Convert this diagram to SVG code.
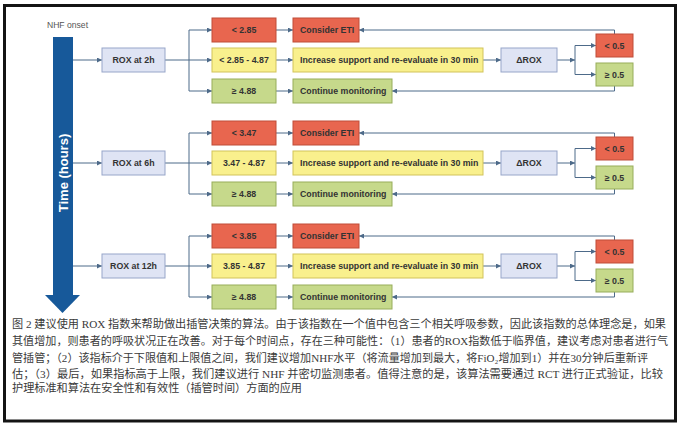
<svg xmlns="http://www.w3.org/2000/svg" width="680" height="426" viewBox="0 0 680 426">
<defs>
<marker id="ah" viewBox="0 0 6 6" refX="6" refY="3" markerWidth="5" markerHeight="5" markerUnits="userSpaceOnUse" orient="auto">
<path d="M0,0 L6,3 L0,6 z" fill="#4d6a89"/>
</marker>
</defs>
<style>
.box{stroke-width:1}
.rox{fill:#dfe4f4;stroke:#97a6c9}
.red{fill:#e8664f;stroke:#bf4c39}
.yel{fill:#f9f08d;stroke:#d1c35b}
.grn{fill:#c6d98b;stroke:#97ad5b}
.t{font-family:"Liberation Sans",Arial,sans-serif;font-weight:bold;font-size:8.8px;fill:#333}
.c{text-anchor:middle}
.ln{fill:none;stroke:#4d6a89;stroke-width:1}
.ar{marker-end:url(#ah)}
.cap{font-family:"Liberation Serif","Noto Sans CJK SC",serif;font-size:11px;fill:#3a3a3a}
</style>
<rect x="0" y="0" width="680" height="426" fill="#ffffff"/>
<rect x="4.5" y="5.5" width="671" height="415.5" fill="#ffffff" stroke="#141414" stroke-width="3"/>

<g id="timeline">
<text x="67.5" y="28" text-anchor="middle" font-family="'Liberation Sans',Arial,sans-serif" font-size="8.6" fill="#555">NHF onset</text>
<rect x="53" y="37" width="20" height="259" fill="#17599a"/>
<polygon points="45,295 80,295 62.5,313" fill="#17599a"/>
<text transform="translate(67.5,173) rotate(-90)" text-anchor="middle" font-family="'Liberation Sans',Arial,sans-serif" font-weight="bold" font-size="13" fill="#ffffff">Time (hours)</text>
</g>

<g id="connectors">
<g id="conn-2h">
<path class="ln ar" d="M73,60 H102"/>
<path class="ln" d="M165,60 H189 M189,30 V91"/>
<path class="ln ar" d="M189,30 H212"/><path class="ln ar" d="M189,60 H212"/><path class="ln ar" d="M189,91 H212"/>
<path class="ln ar" d="M276,30 H293"/><path class="ln ar" d="M276,60 H293"/><path class="ln ar" d="M276,91 H293"/>
<path class="ln ar" d="M483,60 H501"/>
<path class="ln ar" d="M557,60 H575"/>
<path class="ln" d="M575,45.5 V74.5"/>
<path class="ln ar" d="M575,45.5 H596"/><path class="ln ar" d="M575,74.5 H596"/>
<path class="ln ar" d="M614.5,34 V30 H359"/>
<path class="ln ar" d="M614.5,86 V91 H392"/>
</g>
<g id="conn-6h" transform="translate(0,103)">
<path class="ln ar" d="M73,60 H102"/>
<path class="ln" d="M165,60 H189 M189,30 V91"/>
<path class="ln ar" d="M189,30 H212"/><path class="ln ar" d="M189,60 H212"/><path class="ln ar" d="M189,91 H212"/>
<path class="ln ar" d="M276,30 H293"/><path class="ln ar" d="M276,60 H293"/><path class="ln ar" d="M276,91 H293"/>
<path class="ln ar" d="M483,60 H501"/>
<path class="ln ar" d="M557,60 H575"/>
<path class="ln" d="M575,45.5 V74.5"/>
<path class="ln ar" d="M575,45.5 H596"/><path class="ln ar" d="M575,74.5 H596"/>
<path class="ln ar" d="M614.5,34 V30 H359"/>
<path class="ln ar" d="M614.5,86 V91 H392"/>
</g>
<g id="conn-12h" transform="translate(0,206)">
<path class="ln ar" d="M73,60 H102"/>
<path class="ln" d="M165,60 H189 M189,30 V91"/>
<path class="ln ar" d="M189,30 H212"/><path class="ln ar" d="M189,60 H212"/><path class="ln ar" d="M189,91 H212"/>
<path class="ln ar" d="M276,30 H293"/><path class="ln ar" d="M276,60 H293"/><path class="ln ar" d="M276,91 H293"/>
<path class="ln ar" d="M483,60 H501"/>
<path class="ln ar" d="M557,60 H575"/>
<path class="ln" d="M575,45.5 V74.5"/>
<path class="ln ar" d="M575,45.5 H596"/><path class="ln ar" d="M575,74.5 H596"/>
<path class="ln ar" d="M614.5,34 V30 H359"/>
<path class="ln ar" d="M614.5,86 V91 H392"/>
</g>
</g>

<g id="section-2h">
<g id="rox-2h"><rect class="box rox" x="102" y="48" width="63" height="24"/><text class="t c" x="133.5" y="63.2">ROX at 2h</text></g>
<g id="low-2h"><rect class="box red" x="212" y="18" width="64" height="24"/><text class="t c" x="244" y="33.2">&lt; 2.85</text></g>
<g id="mid-2h"><rect class="box yel" x="212" y="48" width="64" height="24"/><text class="t c" x="244" y="63.2">&lt; 2.85 - 4.87</text></g>
<g id="high-2h"><rect class="box grn" x="212" y="79" width="64" height="24"/><text class="t c" x="244" y="94.2">≥ 4.88</text></g>
<g id="eti-2h"><rect class="box red" x="293" y="18" width="66" height="24"/><text class="t" x="300" y="33.2">Consider ETI</text></g>
<g id="inc-2h"><rect class="box yel" x="293" y="48" width="190" height="24"/><text class="t" x="300" y="63.2">Increase support and re-evaluate in 30 min</text></g>
<g id="mon-2h"><rect class="box grn" x="293" y="79" width="99" height="24"/><text class="t" x="300" y="94.2">Continue monitoring</text></g>
<g id="drox-2h"><rect class="box rox" x="501" y="48" width="56" height="24"/><text class="t c" x="529" y="63.2">ΔROX</text></g>
<g id="dlow-2h"><rect class="box red" x="596" y="34" width="37" height="23"/><text class="t c" x="614.5" y="48.7">&lt; 0.5</text></g>
<g id="dhigh-2h"><rect class="box grn" x="596" y="63" width="37" height="23"/><text class="t c" x="614.5" y="77.7">≥ 0.5</text></g>
</g>

<g id="section-6h" transform="translate(0,103)">
<g id="rox-6h"><rect class="box rox" x="102" y="48" width="63" height="24"/><text class="t c" x="133.5" y="63.2">ROX at 6h</text></g>
<g id="low-6h"><rect class="box red" x="212" y="18" width="64" height="24"/><text class="t c" x="244" y="33.2">&lt; 3.47</text></g>
<g id="mid-6h"><rect class="box yel" x="212" y="48" width="64" height="24"/><text class="t c" x="244" y="63.2">3.47 - 4.87</text></g>
<g id="high-6h"><rect class="box grn" x="212" y="79" width="64" height="24"/><text class="t c" x="244" y="94.2">≥ 4.88</text></g>
<g id="eti-6h"><rect class="box red" x="293" y="18" width="66" height="24"/><text class="t" x="300" y="33.2">Consider ETI</text></g>
<g id="inc-6h"><rect class="box yel" x="293" y="48" width="190" height="24"/><text class="t" x="300" y="63.2">Increase support and re-evaluate in 30 min</text></g>
<g id="mon-6h"><rect class="box grn" x="293" y="79" width="99" height="24"/><text class="t" x="300" y="94.2">Continue monitoring</text></g>
<g id="drox-6h"><rect class="box rox" x="501" y="48" width="56" height="24"/><text class="t c" x="529" y="63.2">ΔROX</text></g>
<g id="dlow-6h"><rect class="box red" x="596" y="34" width="37" height="23"/><text class="t c" x="614.5" y="48.7">&lt; 0.5</text></g>
<g id="dhigh-6h"><rect class="box grn" x="596" y="63" width="37" height="23"/><text class="t c" x="614.5" y="77.7">≥ 0.5</text></g>
</g>

<g id="section-12h" transform="translate(0,206)">
<g id="rox-12h"><rect class="box rox" x="102" y="48" width="63" height="24"/><text class="t c" x="133.5" y="63.2">ROX at 12h</text></g>
<g id="low-12h"><rect class="box red" x="212" y="18" width="64" height="24"/><text class="t c" x="244" y="33.2">&lt; 3.85</text></g>
<g id="mid-12h"><rect class="box yel" x="212" y="48" width="64" height="24"/><text class="t c" x="244" y="63.2">3.85 - 4.87</text></g>
<g id="high-12h"><rect class="box grn" x="212" y="79" width="64" height="24"/><text class="t c" x="244" y="94.2">≥ 4.88</text></g>
<g id="eti-12h"><rect class="box red" x="293" y="18" width="66" height="24"/><text class="t" x="300" y="33.2">Consider ETI</text></g>
<g id="inc-12h"><rect class="box yel" x="293" y="48" width="190" height="24"/><text class="t" x="300" y="63.2">Increase support and re-evaluate in 30 min</text></g>
<g id="mon-12h"><rect class="box grn" x="293" y="79" width="99" height="24"/><text class="t" x="300" y="94.2">Continue monitoring</text></g>
<g id="drox-12h"><rect class="box rox" x="501" y="48" width="56" height="24"/><text class="t c" x="529" y="63.2">ΔROX</text></g>
<g id="dlow-12h"><rect class="box red" x="596" y="34" width="37" height="23"/><text class="t c" x="614.5" y="48.7">&lt; 0.5</text></g>
<g id="dhigh-12h"><rect class="box grn" x="596" y="63" width="37" height="23"/><text class="t c" x="614.5" y="77.7">≥ 0.5</text></g>
</g>

<g id="caption">
<text class="cap" x="12" y="328" textLength="654" lengthAdjust="spacingAndGlyphs">图 2 建议使用 ROX 指数来帮助做出插管决策的算法。由于该指数在一个值中包含三个相关呼吸参数，因此该指数的总体理念是，如果</text>
<text class="cap" x="12" y="345" textLength="656" lengthAdjust="spacingAndGlyphs">其值增加，则患者的呼吸状况正在改善。对于每个时间点，存在三种可能性：（1）患者的ROX指数低于临界值，建议考虑对患者进行气</text>
<text class="cap" x="12" y="362" textLength="636" lengthAdjust="spacingAndGlyphs">管插管；（2）该指标介于下限值和上限值之间，我们建议增加NHF水平（将流量增加到最大，将FiO₂增加到1）并在30分钟后重新评</text>
<text class="cap" x="12" y="378" textLength="651" lengthAdjust="spacingAndGlyphs">估；（3）最后，如果指标高于上限，我们建议进行 NHF 并密切监测患者。值得注意的是，该算法需要通过 RCT 进行正式验证，比较</text>
<text class="cap" x="12" y="392" textLength="290" lengthAdjust="spacingAndGlyphs">护理标准和算法在安全性和有效性（插管时间）方面的应用</text>
</g>
</svg>
